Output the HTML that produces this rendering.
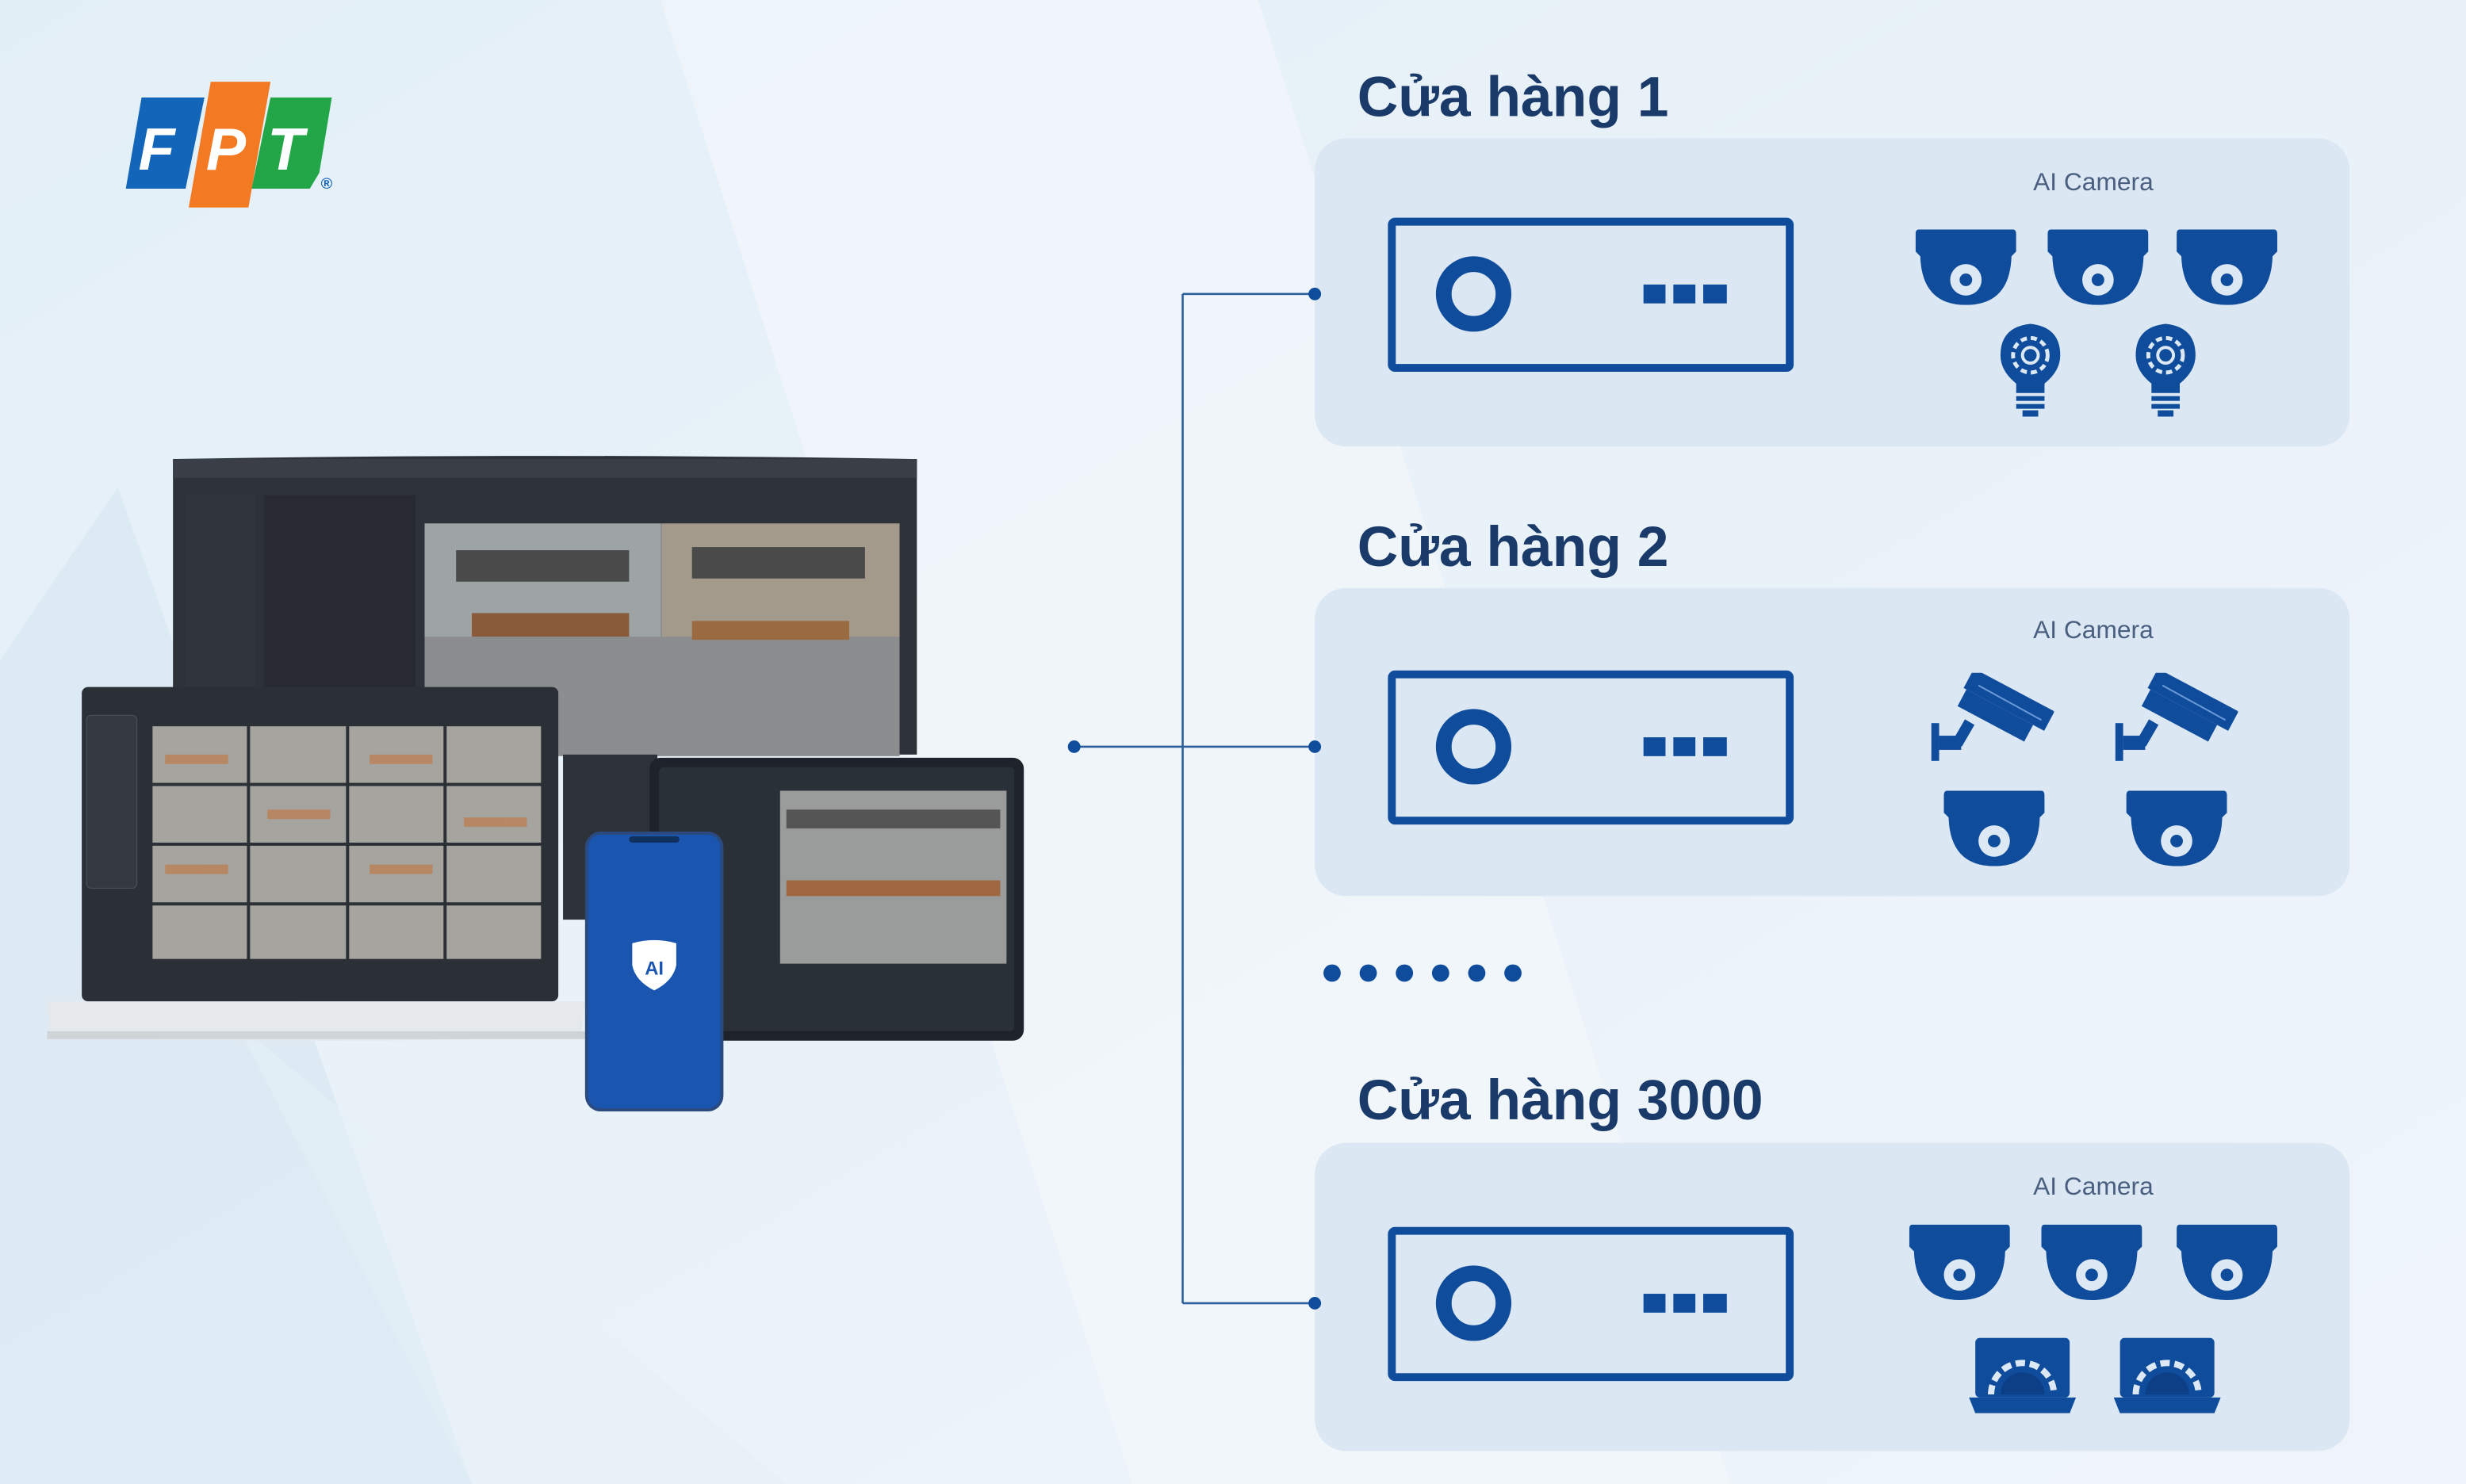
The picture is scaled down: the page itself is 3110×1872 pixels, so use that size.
<!DOCTYPE html>
<html><head><meta charset="utf-8"><style>
html,body{margin:0;padding:0;width:3110px;height:1872px;overflow:hidden;background:#eaf2f8}
svg{display:block}
</style></head><body>
<svg width="3110" height="1872" viewBox="0 0 1568 944" preserveAspectRatio="none" xmlns="http://www.w3.org/2000/svg">
<defs>
<linearGradient id="bg" x1="0" y1="0" x2="1" y2="1">
<stop offset="0" stop-color="#e3eff7"/><stop offset="0.5" stop-color="#eaf2f9"/><stop offset="1" stop-color="#eef4fa"/></linearGradient>
<symbol id="dome" viewBox="0 0 64 48"><path d="M2,0 H62 Q64,0 64,3 V14 L61,17 Q60,48 32,48 Q4,48 3,17 L0,14 V3 Q0,0 2,0Z" fill="#0f4c9c"/><circle cx="32" cy="32" r="10" fill="#dce8f4"/><circle cx="32" cy="32" r="4" fill="#0f4c9c"/></symbol>
<symbol id="bulb" viewBox="0 0 42 62"><path d="M21,2 Q40,4 40,22 Q40,32 30,40 L30,46 H12 L12,40 Q2,32 2,22 Q2,4 21,2Z" fill="#0f4c9c"/><circle cx="21" cy="22" r="11" fill="none" stroke="#dce8f4" stroke-width="2.5" stroke-dasharray="4 2.5"/><circle cx="21" cy="22" r="5" fill="none" stroke="#dce8f4" stroke-width="2"/><rect x="12" y="48" width="18" height="3" fill="#0f4c9c"/><rect x="12" y="53" width="18" height="3" fill="#0f4c9c"/><rect x="16" y="57" width="10" height="4" fill="#0f4c9c"/></symbol>
<symbol id="bullet" viewBox="0 0 78 58"><g fill="#0f4c9c"><rect x="0" y="32" width="5" height="24"/><rect x="5" y="40" width="14" height="9"/><rect x="17" y="30" width="7" height="16" transform="rotate(30 20 38)"/><g transform="rotate(28 40 20)"><rect x="18" y="6" width="58" height="14"/><rect x="20" y="20" width="48" height="12"/></g></g><line x1="30" y1="8" x2="70" y2="30" stroke="#6a9bd8" stroke-width="1"/></symbol>
<symbol id="lapg" viewBox="0 0 68 48"><rect x="4" y="0" width="60" height="38" rx="3" fill="#0f4c9c"/><path d="M0,38 H68 L64,48 H4Z" fill="#0f4c9c"/><path d="M14,36 A20,20 0 0 1 54,36" fill="none" stroke="#dce8f4" stroke-width="4" stroke-dasharray="6 3"/><path d="M20,36 A14,14 0 0 1 48,36Z" fill="#0d3f86"/></symbol>
</defs>
<rect width="1568" height="944" fill="url(#bg)"/>
<polygon points="420,0 800,0 1100,944 720,944" fill="#f2f7fb" opacity="0.7"/>
<polygon points="0,420 75,310 300,944 0,944" fill="#d9e8f3" opacity="0.8"/>
<polygon points="150,650 500,944 300,944" fill="#e6f0f7" opacity="0.6"/>

<g font-family="Liberation Sans, sans-serif" font-weight="bold" font-style="italic" font-size="38" fill="#fff">
<polygon points="90,62 130,62 118,120 80,120" fill="#1265b8"/>
<polygon points="134,52 172,52 158,132 120,132" fill="#f37a22"/>
<polygon points="172,62 211,62 203,110 197,120 160,120" fill="#22a648"/>
<text x="88" y="108">F</text><text x="131" y="108">P</text><text x="170" y="108">T</text>
<text x="204" y="120" font-size="10" font-style="normal" fill="#1265b8">®</text>
</g>

<path d="M110,292 Q346,288 583,292 L583,480 L110,480Z" fill="#2d3239"/>
<rect x="110" y="292" width="473" height="12" fill="#3a3f47"/>
<rect x="118" y="315" width="44" height="170" fill="#30353c"/>
<rect x="168" y="315" width="96" height="170" fill="#272b31"/>
<rect x="270" y="333" width="302" height="148" fill="#8b8d8e"/>
<rect x="270" y="333" width="150" height="72" fill="#9ea3a5"/><rect x="421" y="333" width="151" height="72" fill="#a49a8c"/>
<rect x="290" y="350" width="110" height="20" fill="#4a4a4a"/><rect x="440" y="348" width="110" height="20" fill="#4a4a4a"/>
<rect x="300" y="390" width="100" height="15" fill="#8a5b3a"/><rect x="440" y="395" width="100" height="12" fill="#9a6a40"/>
<rect x="358" y="480" width="60" height="105" fill="#2d3239"/>

<rect x="52" y="437" width="303" height="200" rx="4" fill="#2b2f36"/>
<rect x="55" y="455" width="32" height="110" rx="3" fill="#343941" stroke="#4a5058" stroke-width="0.6"/>
<g fill="#a5a49f">
<rect x="97" y="462" width="60" height="36"/><rect x="159" y="462" width="61" height="36"/><rect x="222" y="462" width="60" height="36"/><rect x="284" y="462" width="60" height="36"/>
<rect x="97" y="500" width="60" height="36"/><rect x="159" y="500" width="61" height="36"/><rect x="222" y="500" width="60" height="36"/><rect x="284" y="500" width="60" height="36"/>
<rect x="97" y="538" width="60" height="36"/><rect x="159" y="538" width="61" height="36"/><rect x="222" y="538" width="60" height="36"/><rect x="284" y="538" width="60" height="36"/>
<rect x="97" y="576" width="60" height="34"/><rect x="159" y="576" width="61" height="34"/><rect x="222" y="576" width="60" height="34"/><rect x="284" y="576" width="60" height="34"/>
</g>
<g fill="#c07a4a" opacity="0.7"><rect x="105" y="480" width="40" height="6"/><rect x="170" y="515" width="40" height="6"/><rect x="235" y="480" width="40" height="6"/><rect x="295" y="520" width="40" height="6"/><rect x="105" y="550" width="40" height="6"/><rect x="235" y="550" width="40" height="6"/></g>
<path d="M30,637 H372 L370,656 Q360,662 200,662 Q40,662 32,656Z" fill="#e6e9ec"/>
<rect x="30" y="656" width="342" height="5" fill="#cfd4d9"/>

<rect x="413" y="482" width="238" height="180" rx="7" fill="#1e232b"/>
<rect x="419" y="488" width="226" height="168" rx="3" fill="#2a3038"/>
<rect x="496" y="503" width="144" height="110" fill="#9a9c9c"/>
<rect x="500" y="515" width="136" height="12" fill="#555"/><rect x="500" y="560" width="136" height="10" fill="#a06840"/>

<rect x="373" y="530" width="86" height="176" rx="9" fill="#1a55b0" stroke="#2a4a80" stroke-width="2"/>
<rect x="400" y="532" width="32" height="4" rx="2" fill="#10305e"/>
<path d="M402,600 Q416,596 430,600 L430,614 Q428,624 416,630 Q404,624 402,614Z" fill="#fff"/>
<text x="416" y="620" font-family="Liberation Sans, sans-serif" font-weight="bold" font-size="12" fill="#1a55b0" text-anchor="middle">AI</text>

<g stroke="#2b5e9a" stroke-width="1.3" fill="none">
<line x1="683" y1="475" x2="752" y2="475"/>
<line x1="752" y1="187" x2="752" y2="829"/>
<line x1="752" y1="187" x2="836" y2="187"/>
<line x1="752" y1="475" x2="836" y2="475"/>
<line x1="752" y1="829" x2="836" y2="829"/>
</g>

<g fill="#dbe7f3"><rect x="836" y="88" width="658" height="196" rx="20"/><rect x="836" y="374" width="658" height="196" rx="20"/><rect x="836" y="727" width="658" height="196" rx="20"/></g>
<g fill="#0f4c9c"><circle cx="683" cy="475" r="4"/><circle cx="836" cy="187" r="4"/><circle cx="836" cy="475" r="4"/><circle cx="836" cy="829" r="4"/></g>

<g font-family="Liberation Sans, sans-serif" font-weight="bold" font-size="36" fill="#1a3a6a">
<text x="863" y="74">Cửa hàng 1</text>
<text x="863" y="360">Cửa hàng 2</text>
<text x="863" y="712">Cửa hàng 3000</text>
</g>
<g font-family="Liberation Sans, sans-serif" font-size="16" fill="#4a5f80" text-anchor="middle">
<text x="1331" y="121">AI Camera</text><text x="1331" y="406">AI Camera</text><text x="1331" y="760">AI Camera</text>
</g>

<g id="nvr">
<rect x="885" y="141" width="253" height="93" rx="2" fill="none" stroke="#0f4c9c" stroke-width="5"/>
<circle cx="937" cy="187" r="19" fill="none" stroke="#0f4c9c" stroke-width="10"/>
<rect x="1045" y="181" width="14" height="12" fill="#0f4c9c"/><rect x="1064" y="181" width="14" height="12" fill="#0f4c9c"/><rect x="1083" y="181" width="15" height="12" fill="#0f4c9c"/>
</g>
<use href="#nvr" y="288"/>
<use href="#nvr" y="642"/>

<use href="#dome" x="1218" y="146" width="64" height="48"/>
<use href="#dome" x="1302" y="146" width="64" height="48"/>
<use href="#dome" x="1384" y="146" width="64" height="48"/>
<use href="#bulb" x="1270" y="204" width="42" height="62"/>
<use href="#bulb" x="1356" y="204" width="42" height="62"/>

<use href="#bullet" x="1228" y="428" width="78" height="58"/>
<use href="#bullet" x="1345" y="428" width="78" height="58"/>
<use href="#dome" x="1236" y="503" width="64" height="48"/>
<use href="#dome" x="1352" y="503" width="64" height="48"/>

<g fill="#0f4c9c"><circle cx="847" cy="619" r="5.5"/><circle cx="870" cy="619" r="5.5"/><circle cx="893" cy="619" r="5.5"/><circle cx="916" cy="619" r="5.5"/><circle cx="939" cy="619" r="5.5"/><circle cx="962" cy="619" r="5.5"/></g>

<use href="#dome" x="1214" y="779" width="64" height="48"/>
<use href="#dome" x="1298" y="779" width="64" height="48"/>
<use href="#dome" x="1384" y="779" width="64" height="48"/>
<use href="#lapg" x="1252" y="851" width="68" height="48"/>
<use href="#lapg" x="1344" y="851" width="68" height="48"/>
</svg>
</body></html>
